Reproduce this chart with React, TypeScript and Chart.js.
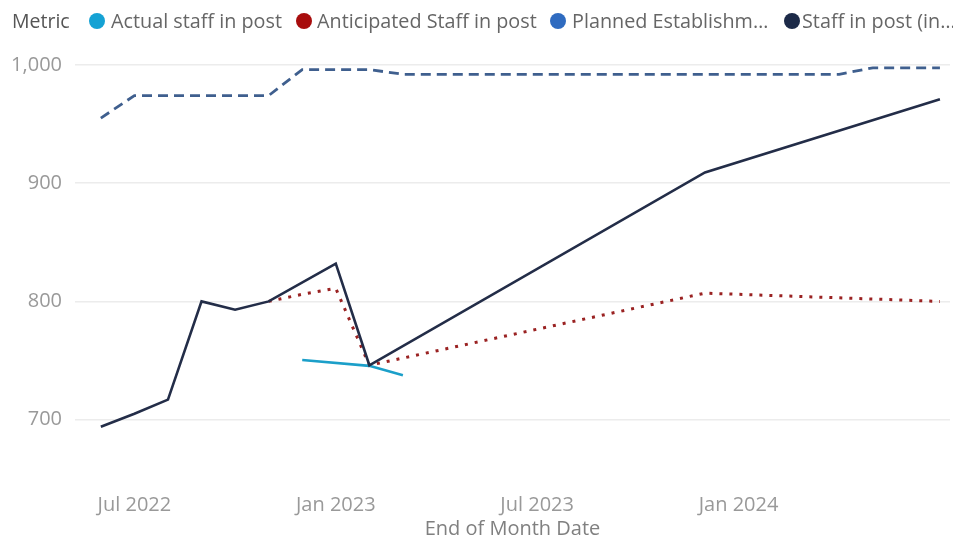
import React, { useEffect, useRef } from "react";
import { Chart, registerables } from "chart.js";

Chart.register(...registerables);

// End-of-month dates (YYYY-MM) and values
const staffDates = ["2022-05", "2022-06", "2022-07", "2022-08", "2022-09", "2022-10", "2022-12", "2023-01", "2023-11", "2024-06"];
const staffValues = [694, 705, 717, 800, 793, 800, 832, 746, 909, 971];

const plannedDates = [
  "2022-05", "2022-06", "2022-07", "2022-08", "2022-09", "2022-10", "2022-11", "2022-12",
  "2023-01", "2023-02", "2023-03", "2023-04", "2023-05", "2023-06", "2023-07", "2023-08",
  "2023-09", "2023-10", "2023-11", "2023-12", "2024-01", "2024-02", "2024-03", "2024-04",
  "2024-05", "2024-06",
];
const plannedValues = [
  955, 974, 974, 974, 974, 974, 996, 996,
  996, 992, 992, 992, 992, 992, 992, 992,
  992, 992, 992, 992, 992, 992, 992, 997.5,
  997.5, 997.5,
];

const anticipatedDates = ["2022-10", "2022-11", "2022-12", "2023-01", "2023-11", "2024-06"];
const anticipatedValues = [800, 806, 811, 746, 807, 800];

const actualDates = ["2022-11", "2023-01", "2023-02"];
const actualValues = [750.5, 745.5, 737.5];

const xTickValues = ["2022-07-01", "2023-01-01", "2023-07-01", "2024-01-01"];
const xTickLabels = ["Jul 2022", "Jan 2023", "Jul 2023", "Jan 2024"];
const yTickValues = [700, 800, 900, 1000];

const legendTitle = "Metric";
const legendNames = ["Actual staff in post", "Anticipated Staff in post", "Planned Establishm…", "Staff in post (in…"];
const legendColors = ["#15a2d4", "#a80d0d", "#2f6bc0", "#1c2a48"];

// month index: Jan 1 2022 = 0; end of month m == start of month m+1
const endOfMonthIndex = (s: string) => {
  const [y, m] = s.split("-").map(Number);
  return (y - 2022) * 12 + m;
};
const startOfMonthIndex = (s: string) => {
  const [y, m] = s.split("-").map(Number);
  return (y - 2022) * 12 + (m - 1);
};
const toPoints = (dates: string[], vals: number[]) =>
  dates.map((d, i) => ({ x: endOfMonthIndex(d), y: vals[i] }));

const FONT = "'Open Sans', 'Noto Sans', sans-serif";

export default function App() {
  const ref = useRef<HTMLCanvasElement | null>(null);

  useEffect(() => {
    document.body.style.margin = "0";
    if (!ref.current) return;
    const tickPos = xTickValues.map(startOfMonthIndex);
    const chart = new Chart(ref.current, {
      type: "line",
      data: {
        datasets: [
          {
            label: legendNames[3],
            data: toPoints(staffDates, staffValues),
            borderColor: "#232d48",
            borderWidth: 2.6,
            pointRadius: 0,
            tension: 0,
          },
          {
            label: legendNames[0],
            data: toPoints(actualDates, actualValues),
            borderColor: "#1b9fc9",
            borderWidth: 2.6,
            pointRadius: 0,
            tension: 0,
          },
          {
            label: legendNames[1],
            data: toPoints(anticipatedDates, anticipatedValues),
            borderColor: "#9a2222",
            borderWidth: 3,
            borderDash: [3, 7],
            pointRadius: 0,
            tension: 0,
          },
          {
            label: legendNames[2],
            data: toPoints(plannedDates, plannedValues),
            borderColor: "#3f5f8e",
            borderWidth: 2.8,
            borderDash: [10, 6],
            pointRadius: 0,
            tension: 0,
          },
        ],
      },
      options: {
        animation: false,
        responsive: false,
        maintainAspectRatio: false,
        layout: { padding: { top: 40, left: 0, right: 3, bottom: 0 } },
        plugins: { legend: { display: false }, tooltip: { enabled: false } },
        scales: {
          x: {
            type: "linear",
            min: 4.23,
            max: 30.3,
            grid: { display: false },
            border: { display: false },
            afterBuildTicks: (scale: any) => {
              scale.ticks = tickPos.map((v) => ({ value: v }));
            },
            afterFit: (scale: any) => {
              scale.height = 74;
            },
            ticks: {
              autoSkip: false,
              maxRotation: 0,
              padding: 18,
              color: "#999999",
              font: { family: FONT, size: 20 },
              callback: (v: any) => {
                const i = tickPos.indexOf(Number(v));
                return i >= 0 ? xTickLabels[i] : "";
              },
            },
            title: {
              display: true,
              text: "End of Month Date",
              color: "#808080",
              font: { family: FONT, size: 20 },
              padding: { top: 0, bottom: 0 },
            },
          },
          y: {
            min: 660,
            max: 1021,
            grid: { color: "#ececec", lineWidth: 1.5, drawTicks: false },
            border: { display: false },
            afterBuildTicks: (scale: any) => {
              scale.ticks = yTickValues.map((v) => ({ value: v }));
            },
            afterFit: (scale: any) => {
              scale.width = 75;
            },
            ticks: {
              padding: 13,
              color: "#999999",
              font: { family: FONT, size: 20 },
              callback: (v: any) => Number(v).toLocaleString("en-US"),
            },
          },
        },
      },
    } as any);
    return () => chart.destroy();
  }, []);

  const markerCenters = [97, 304, 558, 792];
  const textLefts = [111, 317, 572, 802];

  return (
    <div style={{ position: "relative", width: 953, height: 541, background: "#fff", overflow: "hidden" }}>
      <canvas ref={ref} width={953} height={541} style={{ position: "absolute", left: 0, top: 0 }} />
      <div
        style={{
          position: "absolute",
          left: 12,
          top: 8,
          fontFamily: FONT,
          fontSize: 19.5,
          color: "#555",
          whiteSpace: "nowrap",
          lineHeight: "26px",
        }}
      >
        {legendTitle}
      </div>
      {legendNames.map((n, i) => (
        <React.Fragment key={n}>
          <div
            style={{
              position: "absolute",
              left: markerCenters[i] - 8,
              top: 13,
              width: 16,
              height: 16,
              borderRadius: 8,
              background: legendColors[i],
            }}
          />
          <div
            style={{
              position: "absolute",
              left: textLefts[i],
              top: 8,
              fontFamily: FONT,
              fontSize: 19.8,
              color: "#666",
              whiteSpace: "nowrap",
              lineHeight: "26px",
            }}
          >
            {n}
          </div>
        </React.Fragment>
      ))}
    </div>
  );
}
